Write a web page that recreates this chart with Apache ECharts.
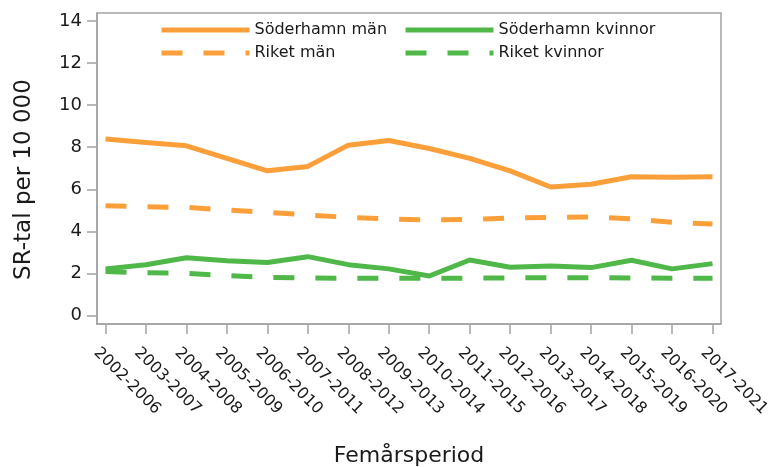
<!DOCTYPE html>
<html>
<head>
<meta charset="utf-8">
<script src="https://cdn.jsdelivr.net/npm/echarts@6/dist/echarts.min.js"></script>
<style>
  html, body { margin: 0; padding: 0; background: #fff; }
  #chart { width: 771px; height: 467px; }
</style>
</head>
<body>
<div id="chart"></div>
<script>
// perioder (x-axel)
const periods = ['2002-2006', '2003-2007', '2004-2008', '2005-2009', '2006-2010', '2007-2011',
  '2008-2012', '2009-2013', '2010-2014', '2011-2015', '2012-2016', '2013-2017',
  '2014-2018', '2015-2019', '2016-2020', '2017-2021']

// SR-tal per 10 000
const soderhamnMan = [8.39, 8.23, 8.07, 7.47, 6.88, 7.09, 8.1, 8.32, 7.94, 7.47, 6.88, 6.11, 6.24, 6.6, 6.58, 6.6]
const riketMan = [5.22, 5.17, 5.14, 5.02, 4.91, 4.78, 4.67, 4.59, 4.54, 4.57, 4.64, 4.67, 4.68, 4.6, 4.43, 4.35]
const soderhamnKvinnor = [2.22, 2.42, 2.75, 2.61, 2.52, 2.8, 2.42, 2.22, 1.88, 2.64, 2.3, 2.36, 2.28, 2.63, 2.22, 2.47]
const riketKvinnor = [2.09, 2.04, 2.01, 1.9, 1.82, 1.79, 1.77, 1.77, 1.78, 1.78, 1.79, 1.8, 1.8, 1.79, 1.78, 1.78]

const yTicks = [0, 2, 4, 6, 8, 10, 12, 14]
const xTicks = periods.map((p, i) => i)

const ORANGE = '#FA9F3A'
const GREEN = '#4FB848'
const GREY = '#a3a3a3'
const TEXT = '#1a1a1a'
const FONT = 'DejaVu Sans'

const toPoints = arr => arr.map((v, i) => [i, v])

const chart = echarts.init(document.getElementById('chart'))

const lineSeries = (name, arr, color, dashed) => ({
  name,
  type: 'line',
  data: toPoints(arr),
  symbol: 'none',
  animation: false,
  lineStyle: { color, width: 5, type: dashed ? [21, 21] : 'solid' },
  itemStyle: { color }
})

const legendBase = {
  orient: 'vertical',
  top: 22,
  padding: 0,
  itemWidth: 88,
  itemHeight: 16,
  itemGap: 7,
  lineStyle: { width: 5 },
  // dölj cirkeln som line-serien annars ritar i förklaringen
  itemStyle: { opacity: 0 },
  textStyle: { fontFamily: FONT, fontSize: 16, color: TEXT }
}

chart.setOption({
  backgroundColor: '#fff',
  grid: {
    left: 97, right: 50, top: 13, bottom: 143,
    outerBoundsMode: 'none',
    show: true, borderColor: GREY, borderWidth: 1.5
  },
  legend: [
    Object.assign({}, legendBase, { left: 159, data: ['Söderhamn män', 'Riket män'] }),
    Object.assign({}, legendBase, { left: 403, data: ['Söderhamn kvinnor', 'Riket kvinnor'] })
  ],
  xAxis: {
    type: 'value',
    min: -0.21,
    max: 15.21,
    name: 'Femårsperiod',
    nameLocation: 'middle',
    nameGap: 121,
    nameTextStyle: { fontFamily: FONT, fontSize: 22, color: TEXT },
    axisLine: { show: true, onZero: false, lineStyle: { color: GREY, width: 1.5 } },
    axisTick: { show: true, length: 10, customValues: xTicks, lineStyle: { color: GREY, width: 1.5 } },
    splitLine: { show: false },
    axisLabel: {
      customValues: xTicks,
      showMinLabel: true,
      showMaxLabel: true,
      hideOverlap: false,
      rotate: -45,
      margin: 17,
      verticalAlign: 'top',
      lineHeight: 26,
      fontFamily: FONT,
      fontSize: 16,
      color: TEXT,
      formatter: v => periods[Math.round(v)]
    }
  },
  yAxis: {
    type: 'value',
    min: -0.4,
    max: 14.38,
    name: 'SR-tal per 10 000',
    nameLocation: 'middle',
    nameGap: 61,
    nameTextStyle: { fontFamily: FONT, fontSize: 23, color: TEXT, padding: [0, 22, 0, 0] },
    axisLine: { show: true, onZero: false, lineStyle: { color: GREY, width: 1.5 } },
    axisTick: { show: true, length: 10, customValues: yTicks, lineStyle: { color: GREY, width: 1.5 } },
    splitLine: { show: false },
    axisLabel: {
      customValues: yTicks,
      margin: 15,
      fontFamily: FONT,
      fontSize: 18,
      color: TEXT
    }
  },
  series: [
    lineSeries('Söderhamn män', soderhamnMan, ORANGE, false),
    lineSeries('Riket män', riketMan, ORANGE, true),
    lineSeries('Söderhamn kvinnor', soderhamnKvinnor, GREEN, false),
    lineSeries('Riket kvinnor', riketKvinnor, GREEN, true)
  ]
})
</script>
</body>
</html>
